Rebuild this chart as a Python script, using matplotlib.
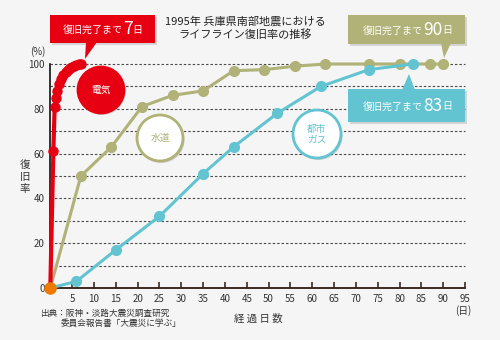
import matplotlib
matplotlib.use("Agg")
import matplotlib.pyplot as plt
from matplotlib.patches import Rectangle, Polygon, Circle

plt.rcParams['font.family'] = ['Noto Sans CJK JP', 'DejaVu Sans']

# ---------------- data ----------------
elec_days = [0, 0.7, 1.0, 1.2, 1.5, 2.0, 2.5, 3.0, 3.5, 4.0, 4.5, 5.0, 5.5, 6.0, 6.5, 7.0]
elec_vals = [0, 61, 81, 85, 88, 91, 93.5, 95, 96.5, 97.5, 98.2, 98.8, 99.3, 99.6, 99.8, 100]
water_days = [0, 7, 14, 21, 28, 35, 42, 49, 56, 63, 73, 80, 87, 90]
water_vals = [0, 50, 63, 81, 86, 88, 97, 97.5, 99, 100, 100, 100, 100, 100]
gas_days = [0, 6, 15, 25, 35, 42, 52, 62, 73, 83]
gas_vals = [0, 3, 17, 32, 51, 63, 78, 90, 97.5, 100]
xticks = list(range(5, 100, 5))
yticks = [0, 20, 40, 60, 80, 100]
gridlines = list(range(10, 110, 10))

title = "1995年 兵庫県南部地震における\nライフライン復旧率の推移"
source1 = "出典：阪神・淡路大震災調査研究"
source2 = "委員会報告書「大震災に学ぶ」"

RED = "#e60012"
OLIVE = "#b0b277"
BLUE = "#62c4d1"
ORANGE = "#ee7a00"
BG = "#f5f5f5"
TXT = "#333333"

W, H = 500, 340
fig = plt.figure(figsize=(W / 100, H / 100), dpi=100, facecolor=BG)

def fx(px):
    return px / W

def fy(py):
    return 1 - py / H

x0, x1 = 50.3, 465
y0, y1 = 288, 64
ax = fig.add_axes([fx(x0), fy(y0), fx(x1) - fx(x0), fy(y1) - fy(y0)])
ax.set_facecolor(BG)
ax.set_xlim(0, 95)
ax.set_ylim(0, 100)

for g in gridlines:
    ax.plot([0, 95], [g, g], color="#4a4a4a", lw=0.8, ls=(0, (2.2, 1.8)), zorder=1, clip_on=False)

ax.plot(water_days, water_vals, color=OLIVE, lw=2.2, marker="o", ms=7, zorder=3, clip_on=False)
ax.plot(gas_days, gas_vals, color=BLUE, lw=2.2, marker="o", ms=7, zorder=4, clip_on=False)
ax.plot(elec_days, elec_vals, color=RED, lw=3.0, marker="o", ms=6.5, zorder=5, clip_on=False)
ax.plot([0], [0], marker="o", ms=8, color=ORANGE, zorder=6, clip_on=False)

for s in ["top", "right"]:
    ax.spines[s].set_visible(False)
ax.spines["left"].set_color("#111111")
ax.spines["left"].set_linewidth(1.2)
ax.spines["bottom"].set_color("#3a2a22")
ax.spines["bottom"].set_linewidth(1.4)
ax.set_xticks(xticks)
ax.set_xticklabels([str(t) for t in xticks])
ax.set_yticks(yticks)
ax.set_yticklabels([str(t) for t in yticks])
ax.tick_params(axis="x", direction="in", length=4, width=1.2, color="#3a2a22",
               labelsize=7, labelcolor=TXT, pad=4)
ax.tick_params(axis="y", length=0, labelsize=7, labelcolor=TXT, pad=4)

# ---------------- overlay (pixel coords) ----------------
ov = fig.add_axes([0, 0, 1, 1], facecolor="none")
ov.set_xlim(0, W)
ov.set_ylim(H, 0)
ov.axis("off")

ov.text(245, 28, title, ha="center", va="center", fontsize=8, color="#222222", linespacing=1.35)

renderer = fig.canvas.get_renderer()

def width_px(t):
    bb = t.get_window_extent(renderer=renderer)
    return bb.width

def callout(xl, xr, yt, yb, tri, color, num, tx):
    ov.add_patch(Rectangle((xl + 2, yt + 2), xr - xl, yb - yt, color="#999999", alpha=0.35, lw=0, zorder=9))
    ov.add_patch(Rectangle((xl, yt), xr - xl, yb - yt, color=color, lw=0, zorder=10))
    ov.add_patch(Polygon(tri, closed=True, color=color, lw=0, zorder=10))
    cy = (yt + yb) / 2
    t1 = ov.text(tx, cy + 1, "復旧完了まで", ha="left", va="center", fontsize=7.2, color="white", zorder=11)
    x = tx + width_px(t1) + 0.5
    t2 = ov.text(x, cy + 0.3, num, ha="left", va="center", fontsize=12.5, color="white", zorder=11)
    x = x + width_px(t2) - 0.5
    ov.text(x, cy + 1, "日", ha="left", va="center", fontsize=7.2, color="white", zorder=11)

callout(50, 155, 15, 43.3, [(86, 42), (97, 42), (85, 59)], RED, "7", 63)
callout(348, 465, 15, 44, [(441, 43), (451, 43), (444, 58)], OLIVE, "90", 363)
callout(348, 465, 89, 122, [(402, 90), (415, 90), (409, 74)], BLUE, "83", 363)

def bubble(cx, cy, r, face, edge, label, tcolor):
    ov.add_patch(Circle((cx + 1.5, cy + 2), r, color="#888888", alpha=0.35, lw=0, zorder=9))
    ov.add_patch(Circle((cx, cy), r, facecolor=face, edgecolor=edge, lw=2, zorder=10))
    ov.text(cx, cy, label, ha="center", va="center", fontsize=7, color=tcolor, zorder=11, linespacing=1.1)

bubble(101, 90, 23, RED, RED, "電気", "white")
bubble(160, 138, 23, "white", OLIVE, "水道", OLIVE)
bubble(317, 134, 24, "white", BLUE, "都市\nガス", BLUE)

ov.text(38, 52, "(%)", ha="center", va="center", fontsize=7, color=TXT)
ov.text(25, 177, "復\n旧\n率", ha="center", va="center", fontsize=7.5, color=TXT, linespacing=1.3)
ov.text(258, 319, "経 過 日 数", ha="center", va="center", fontsize=7.5, color=TXT)
ov.text(463, 311, "(日)", ha="center", va="center", fontsize=7, color=TXT)
ov.text(40, 313, source1, ha="left", va="center", fontsize=6.2, color=TXT)
ov.text(61, 323, source2, ha="left", va="center", fontsize=6.2, color=TXT)

fig.savefig("out.png", dpi=100, facecolor=BG)
